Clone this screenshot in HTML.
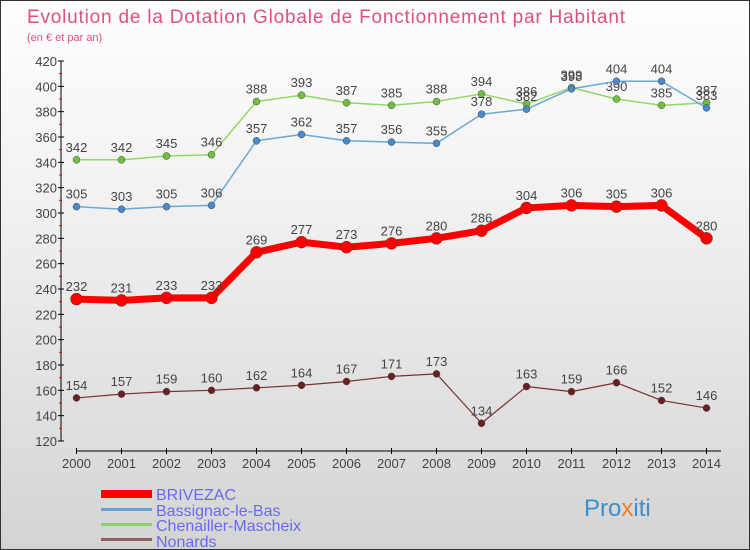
<!DOCTYPE html>
<html><head><meta charset="utf-8"><style>
body{margin:0;}
#c{width:750px;height:550px;position:relative;overflow:hidden;background:linear-gradient(#fefefe,#f0f0f0 40%,#d4d4d4);border:1px solid #333;box-sizing:border-box;font-family:"Liberation Sans",sans-serif;}
svg text{font-family:"Liberation Sans",sans-serif;}
</style></head><body>
<div id="c">
<svg id="s" width="750" height="550" style="position:absolute;left:0;top:0">
<text x="26" y="22" font-size="19" fill="#e0507a" textLength="598">Evolution de la Dotation Globale de Fonctionnement par Habitant</text>
<text x="26" y="40" font-size="11" fill="#e0507a">(en € et par an)</text>
<g id="axes"></g><g id="series"></g>
<g>
<rect x="100" y="489" width="51" height="8" fill="#ff0000"/>
<text x="155" y="499" font-size="16" fill="#6a6af0">BRIVEZAC</text>
<rect x="100" y="507" width="51" height="3" fill="#6aa0d0"/>
<text x="155" y="515" font-size="16" fill="#6a6af0">Bassignac-le-Bas</text>
<rect x="100" y="522" width="51" height="3" fill="#90d070"/>
<text x="155" y="530" font-size="16" fill="#6a6af0">Chenailler-Mascheix</text>
<rect x="100" y="537" width="51" height="3" fill="#906060"/>
<text x="155" y="546" font-size="16" fill="#6a6af0">Nonards</text>
</g>
<text x="583" y="515" font-size="24" fill="#3a8fd0">Pro<tspan fill="#f08020">x</tspan>iti</text>
</svg>
</div>
<script>
const years=[2000,2001,2002,2003,2004,2005,2006,2007,2008,2009,2010,2011,2012,2013,2014];
const brivezac=[232,231,233,233,269,277,273,276,280,286,304,306,305,306,280];
const bassignac=[305,303,305,306,357,362,357,356,355,378,382,398,404,404,383];
const chenailler=[342,342,345,346,388,393,387,385,388,394,386,399,390,385,387];
const nonards=[154,157,159,160,162,164,167,171,173,134,163,159,166,152,146];
const yTicks=[120,140,160,180,200,220,240,260,280,300,320,340,360,380,400,420];
const NS="http://www.w3.org/2000/svg";
function X(i){return 75.5+i*45;}
function Y(v){return 440-(v-120)*380/300;}
function el(t,a,p){const e=document.createElementNS(NS,t);for(const k in a)e.setAttribute(k,a[k]);p.appendChild(e);return e;}
const ax=document.getElementById('axes');
let l=el('line',{x1:60,y1:60,x2:60,y2:440,stroke:'#000'},ax);


yTicks.forEach(v=>{
 el('line',{x1:57,x2:63,y1:Y(v),y2:Y(v),stroke:'#000'},ax);
 if(v<420)el('line',{x1:58,x2:61,y1:Y(v+10),y2:Y(v+10),stroke:'#f00'},ax);
 const t=el('text',{x:56,y:Y(v)+5,'font-size':13,fill:'#444','text-anchor':'end'},ax);t.textContent=v;
 
 
});
l=el('line',{x1:75,y1:450,x2:720,y2:450,stroke:'#000'},ax);


years.forEach((y,i)=>{
 el('line',{x1:X(i),x2:X(i),y1:447,y2:453,stroke:'#000'},ax);
 const t=el('text',{x:X(i),y:467,'font-size':13,fill:'#444','text-anchor':'middle'},ax);t.textContent=y;
 
 
});
const sg=document.getElementById('series');
function draw(data,name,color,w,r,dot){
 const g=el('g',{},sg);
 
 
 const p=el('polyline',{points:data.map((v,i)=>X(i)+','+Y(v)).join(' '),fill:'none',stroke:color,'stroke-width':w,'stroke-linejoin':'round'},g);
 
 
 data.forEach((v,i)=>{
  const c=el('circle',{cx:X(i),cy:Y(v),r:r,fill:dot,stroke:'#444','stroke-width':0.5},g);
  
  
  const t=el('text',{x:X(i),y:Y(v)-8,'font-size':13,fill:'#444','text-anchor':'middle'},g);t.textContent=v;
  
  
 });
}
draw(chenailler,'chenailler','#90d868',1.5,3.5,'#70c040');
draw(bassignac,'bassignac','#6aa8d8',1.5,3.5,'#4a8ac8');
draw(brivezac,'brivezac','#ff0000',7,6,'#ff0000');
draw(nonards,'nonards','#7a3030',1.2,3.5,'#6a2020');
</script>
</body></html>
